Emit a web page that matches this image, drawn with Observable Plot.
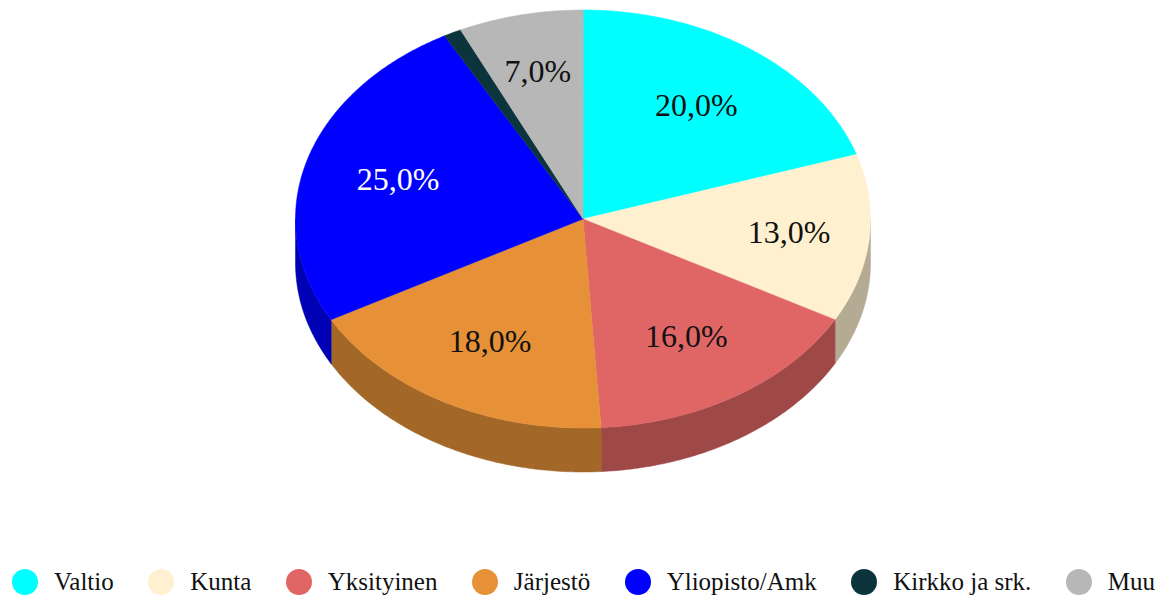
<!DOCTYPE html>
<html lang="fi">
<head>
<meta charset="utf-8">
<script src="https://cdn.jsdelivr.net/npm/d3@7"></script>
<script src="https://cdn.jsdelivr.net/npm/@observablehq/plot@0.6"></script>
<style>
  html, body { margin: 0; padding: 0; background: #fff; overflow: hidden; }
  #chart svg { display: block; }
  #legend {
    display: flex; justify-content: space-between; align-items: center;
    height: 30px; box-sizing: border-box; padding: 0 8px 0 12px;
    font-family: "Liberation Serif", serif; font-size: 25px; color: #111;
  }
  #legend .item { display: flex; align-items: center; gap: 16px; }
  #legend .dot { width: 26px; height: 26px; border-radius: 50%; display: block; }
</style>
</head>
<body>
<div id="chart"></div>
<div id="legend"></div>
<script>
const categories = ["Valtio", "Kunta", "Yksityinen", "Järjestö", "Yliopisto/Amk", "Kirkko ja srk.", "Muu"];
const shares = [20, 13, 16, 18, 25, 1, 7];
const colors = ["#00ffff", "#fff0d0", "#e06666", "#e69138", "#0000ff", "#0c343d", "#b7b7b7"];
const labelColors = ["#111", "#111", "#111", "#111", "#fff", "#111", "#111"];

const W = 1163, H = 567;
const cx = 582.5, cy = 218.5, rx = 287.5, ry = 209, depth = 44 / 209;
const minLabelShare = 5;

const TAU = Math.PI * 2;
const arc = (a0, a1, dy = 0) => {
  const n = Math.max(2, Math.ceil((a1 - a0) / 0.01));
  return d3.range(n + 1).map(i => {
    const a = a0 + (a1 - a0) * i / n;
    return {x: Math.sin(a), y: Math.cos(a) - dy};
  });
};

let acc = 0;
const slices = categories.map((name, i) => {
  const a0 = acc / 100 * TAU;
  acc += shares[i];
  const a1 = acc / 100 * TAU;
  return {name, share: shares[i], a0, a1, mid: (a0 + a1) / 2, color: colors[i], labelColor: labelColors[i]};
});

const topPoints = slices.flatMap(s =>
  [{x: 0, y: 0}, ...arc(s.a0, s.a1)].map(p => ({...p, name: s.name}))
);
const sidePoints = slices.flatMap(s => {
  const a0 = Math.max(s.a0, TAU / 4), a1 = Math.min(s.a1, TAU * 3 / 4);
  if (a1 <= a0) return [];
  const c = d3.rgb(s.color);
  const side = d3.rgb(c.r * 0.71, c.g * 0.71, c.b * 0.71).formatHex();
  return [...arc(a0, a1), ...arc(a0, a1, depth).reverse()].map(p => ({...p, name: s.name, side}));
});
const labels = slices.filter(s => s.share >= minLabelShare).map(s => {
  const r = s.share < 15 ? 0.72 : 0.67;
  return {
    x: r * Math.sin(s.mid), y: r * Math.cos(s.mid),
    text: s.share.toFixed(1).replace(".", ",") + "%", color: s.labelColor
  };
});

const plot = Plot.plot({
  width: W, height: H,
  margin: 0,
  x: {domain: [-1, 1], range: [cx - rx, cx + rx], axis: null},
  y: {domain: [-1, 1], range: [cy + ry, cy - ry], axis: null},
  color: {domain: categories, range: colors},
  style: {background: "#fff"},
  marks: [
    Plot.line(sidePoints, {x: "x", y: "y", z: "name", fill: {value: "side", scale: null}, stroke: {value: "side", scale: null}, strokeWidth: 0.5, curve: "linear-closed"}),
    Plot.line(topPoints, {x: "x", y: "y", z: "name", fill: "name", stroke: "name", strokeWidth: 0.5, curve: "linear-closed"}),
    Plot.text(labels, {x: "x", y: "y", text: "text", fill: {value: "color", scale: null}, fontFamily: "Liberation Serif", fontSize: 32})
  ]
});
document.getElementById("chart").appendChild(plot);

const legend = d3.select("#legend");
categories.forEach((name, i) => {
  const item = legend.append("div").attr("class", "item");
  item.append("span").attr("class", "dot").style("background", colors[i]);
  item.append("span").text(name);
});
</script>
</body>
</html>
